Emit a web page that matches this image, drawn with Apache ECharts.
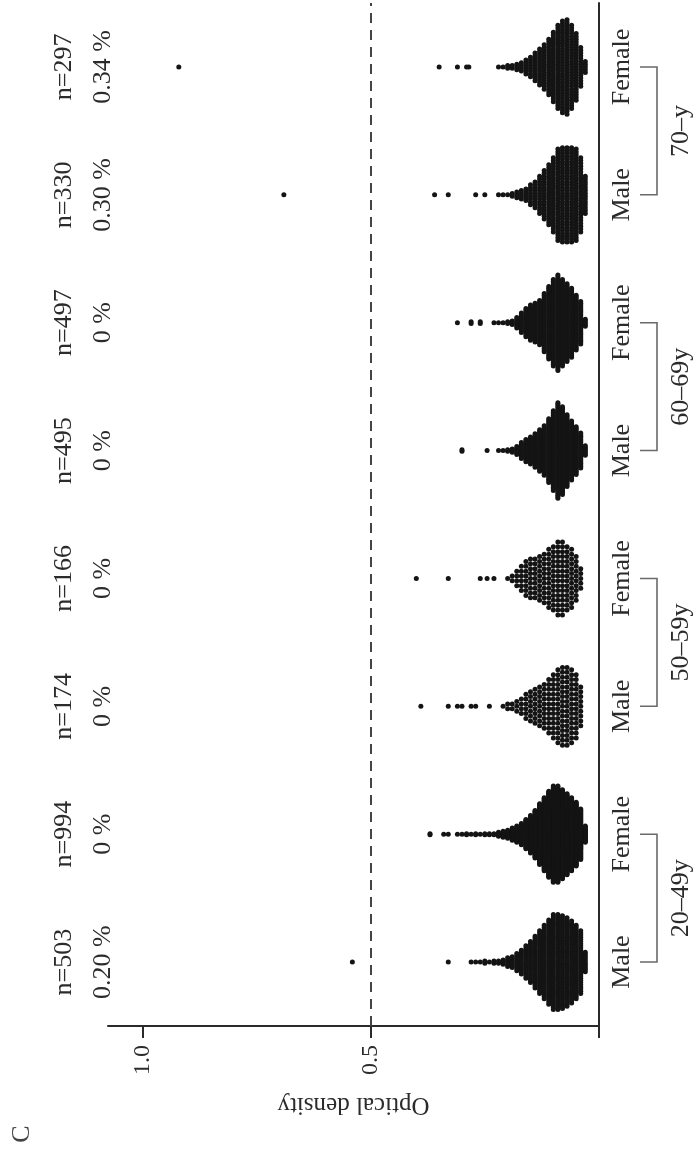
<!DOCTYPE html>
<html><head><meta charset="utf-8">
<script src="https://cdn.jsdelivr.net/npm/echarts@6/dist/echarts.min.js"></script>
<style>html,body{margin:0;padding:0;background:#fff}#c{width:700px;height:1158px}</style>
</head><body><div id="c"></div>
<script>
// ---- data ----
const categories = ['Male','Female','Male','Female','Male','Female','Male','Female'];
const ageGroups = ['20–49y','50–59y','60–69y','70–y'];
const nLabels = ['n=503','n=994','n=174','n=166','n=495','n=497','n=330','n=297'];
const pctLabels = ['0.20 %','0 %','0 %','0 %','0 %','0 %','0.30 %','0.34 %'];
const valueTicks = [0, 0.5, 1.0];
const valueLabels = [0.5, 1.0];
const cutoff = 0.5;
const axisTitle = 'Optical density';
const panelLetter = 'C';
// [optical density, number of subjects at that value]
const male2049 = [[0.03,10],[0.04,30],[0.05,35],[0.06,39],[0.07,42],[0.08,44],[0.09,45],[0.10,45],[0.11,40],[0.12,35],[0.13,30],[0.14,25],[0.15,20],[0.16,16],[0.17,12],[0.18,9],[0.19,6],[0.20,5],[0.21,3],[0.22,2],[0.23,2],[0.24,1],[0.25,2],[0.26,1],[0.27,1],[0.28,1],[0.33,1],[0.54,1]];
const female2049 = [[0.03,17],[0.04,51],[0.05,64],[0.06,73],[0.07,81],[0.08,89],[0.09,96],[0.10,96],[0.11,86],[0.12,73],[0.13,61],[0.14,48],[0.15,38],[0.16,30],[0.17,22],[0.18,17],[0.19,13],[0.20,9],[0.21,7],[0.22,5],[0.23,2],[0.24,2],[0.25,2],[0.26,1],[0.27,2],[0.28,1],[0.29,2],[0.30,1],[0.31,1],[0.33,1],[0.34,1],[0.37,2]];
const male5059 = [[0.04,9],[0.05,14],[0.06,16],[0.07,17],[0.08,17],[0.09,16],[0.10,14],[0.11,12],[0.12,10],[0.13,9],[0.14,8],[0.15,7],[0.16,6],[0.17,4],[0.18,3],[0.19,2],[0.20,2],[0.21,1],[0.24,1],[0.27,1],[0.28,1],[0.30,1],[0.31,1],[0.33,1],[0.39,1]];
const female5059 = [[0.04,5],[0.05,10],[0.06,13],[0.07,14],[0.08,16],[0.09,16],[0.10,14],[0.11,13],[0.12,11],[0.13,10],[0.14,9],[0.15,9],[0.16,8],[0.17,6],[0.18,4],[0.19,2],[0.20,1],[0.23,1],[0.245,1],[0.26,1],[0.33,1],[0.40,1]];
const male6069 = [[0.03,7],[0.04,23],[0.05,31],[0.06,38],[0.07,46],[0.08,56],[0.09,61],[0.10,51],[0.11,41],[0.12,32],[0.13,27],[0.14,22],[0.15,18],[0.16,15],[0.17,11],[0.18,6],[0.19,3],[0.20,2],[0.21,1],[0.22,1],[0.245,1],[0.30,2]];
const female6069 = [[0.03,5],[0.04,25],[0.05,32],[0.06,40],[0.07,45],[0.08,50],[0.09,55],[0.10,50],[0.11,42],[0.12,34],[0.13,26],[0.14,23],[0.15,21],[0.16,17],[0.17,12],[0.18,7],[0.19,3],[0.20,2],[0.21,1],[0.22,1],[0.23,1],[0.26,2],[0.28,2],[0.31,1]];
const male70 = [[0.03,14],[0.04,27],[0.05,33],[0.06,34],[0.07,34],[0.08,34],[0.09,33],[0.10,27],[0.11,22],[0.12,18],[0.13,14],[0.14,10],[0.15,8],[0.16,5],[0.17,4],[0.18,3],[0.19,2],[0.20,1],[0.21,1],[0.22,1],[0.25,1],[0.27,1],[0.33,1],[0.36,1],[0.69,1]];
const female70 = [[0.03,5],[0.04,15],[0.05,25],[0.06,31],[0.07,35],[0.08,34],[0.09,31],[0.10,26],[0.11,21],[0.12,17],[0.13,14],[0.14,11],[0.15,8],[0.16,6],[0.17,4],[0.18,3],[0.19,2],[0.20,2],[0.21,1],[0.22,1],[0.285,1],[0.29,1],[0.31,1],[0.35,1],[0.92,1]];

const swarms = [male2049, female2049, male5059, female5059, male6069, female6069, male70, female70];

// ---- beeswarm layout (offsets across the category band) ----
const DOT_STEP = 0.038, SWARM_W = 0.76;
function swarmPoints(bins, cat) {
  const maxC = Math.max(...bins.map(b => b[1]));
  const step = Math.min(DOT_STEP, SWARM_W / maxC);
  const pts = [];
  bins.forEach(([v, c]) => {
    for (let i = 0; i < c; i++) pts.push([v, cat + (i - (c - 1) / 2) * step]);
  });
  return pts;
}
const points = [];
swarms.forEach((b, i) => points.push(...swarmPoints(b, i)));

const FONT = "'Liberation Serif','Times New Roman',serif";
const TXT = '#2b2b2b';
const chart = echarts.init(document.getElementById('c'), null, {renderer: 'canvas'});
chart.setOption({
  animation: false,
  backgroundColor: '#fff',
  grid: {left: 108, right: 101, top: 3, bottom: 132, containLabel: false, outerBoundsMode: 'none'},
  xAxis: {
    type: 'value', inverse: true, position: 'bottom', min: 0, max: 1.075,
    interval: 0.5,
    name: axisTitle, nameLocation: 'middle', nameGap: 66, nameRotate: 180,
    nameTextStyle: {fontFamily: FONT, fontSize: 25, color: TXT},
    axisLine: {show: true, onZero: false, lineStyle: {color: '#2a2a2a', width: 2}},
    axisTick: {show: true, inside: false, length: 12, lineStyle: {color: '#2a2a2a', width: 2}, customValues: valueTicks},
    axisLabel: {rotate: 90, margin: 19, fontFamily: FONT, fontSize: 24, color: TXT, customValues: valueLabels,
      formatter: v => valueLabels.some(t => Math.abs(t - v) < 1e-9) ? v.toFixed(1) : ''},
    splitLine: {show: false}
  },
  yAxis: [
    { type: 'category', data: categories, position: 'right',
      axisLine: {show: true, onZero: false, lineStyle: {color: '#2a2a2a', width: 2}}, axisTick: {show: false},
      axisLabel: {interval: 0, rotate: 90, margin: 8, fontFamily: FONT, fontSize: 26, lineHeight: 30, color: TXT},
      splitLine: {show: false} },
    { type: 'category', data: categories, position: 'left',
      axisLine: {show: false, onZero: false}, axisTick: {show: false},
      axisLabel: {interval: 0, rotate: 90, margin: -15, fontFamily: FONT, fontSize: 26, lineHeight: 39, color: TXT,
        formatter: (v, i) => nLabels[i] + '\n' + pctLabels[i]},
      splitLine: {show: false} },
    { type: 'category', data: ageGroups, position: 'right',
      axisLine: {show: false, onZero: false}, axisTick: {show: false},
      axisLabel: {interval: 0, rotate: 90, margin: 67, fontFamily: FONT, fontSize: 26, lineHeight: 30, color: TXT},
      splitLine: {show: false} },
    { type: 'value', min: -0.5, max: 7.5, show: false, axisLine: {onZero: false} }
  ],
  series: [
    { type: 'scatter', xAxisIndex: 0, yAxisIndex: 3, data: points, symbol: 'circle', symbolSize: 5,
      itemStyle: {color: '#141414', opacity: 1}, silent: true,
      markLine: { silent: true, symbol: 'none', label: {show: false},
        lineStyle: {type: [10, 7], color: '#444', width: 2},
        data: [{xAxis: cutoff}] } },
    { type: 'custom', xAxisIndex: 0, yAxisIndex: 3, silent: true, clip: false,
      data: ageGroups.map((a, i) => [i]),
      renderItem: (params, api) => {
        const g = api.value(0);
        const x0 = api.coord([0, 0])[0];
        const yA = api.coord([0, 2 * g])[1];
        const yB = api.coord([0, 2 * g + 1])[1];
        return { type: 'polyline',
          shape: {points: [[x0 + 41, yA], [x0 + 58, yA], [x0 + 58, yB], [x0 + 41, yB]]},
          style: {stroke: '#6a6a6a', lineWidth: 1.6, fill: null} };
      } }
  ],
  graphic: [
    { type: 'text', x: 22, y: 1134, rotation: Math.PI / 2,
      style: {text: panelLetter, font: "26px 'Liberation Serif', serif", fill: '#444', textAlign: 'center', textVerticalAlign: 'middle'} }
  ]
});
</script></body></html>
